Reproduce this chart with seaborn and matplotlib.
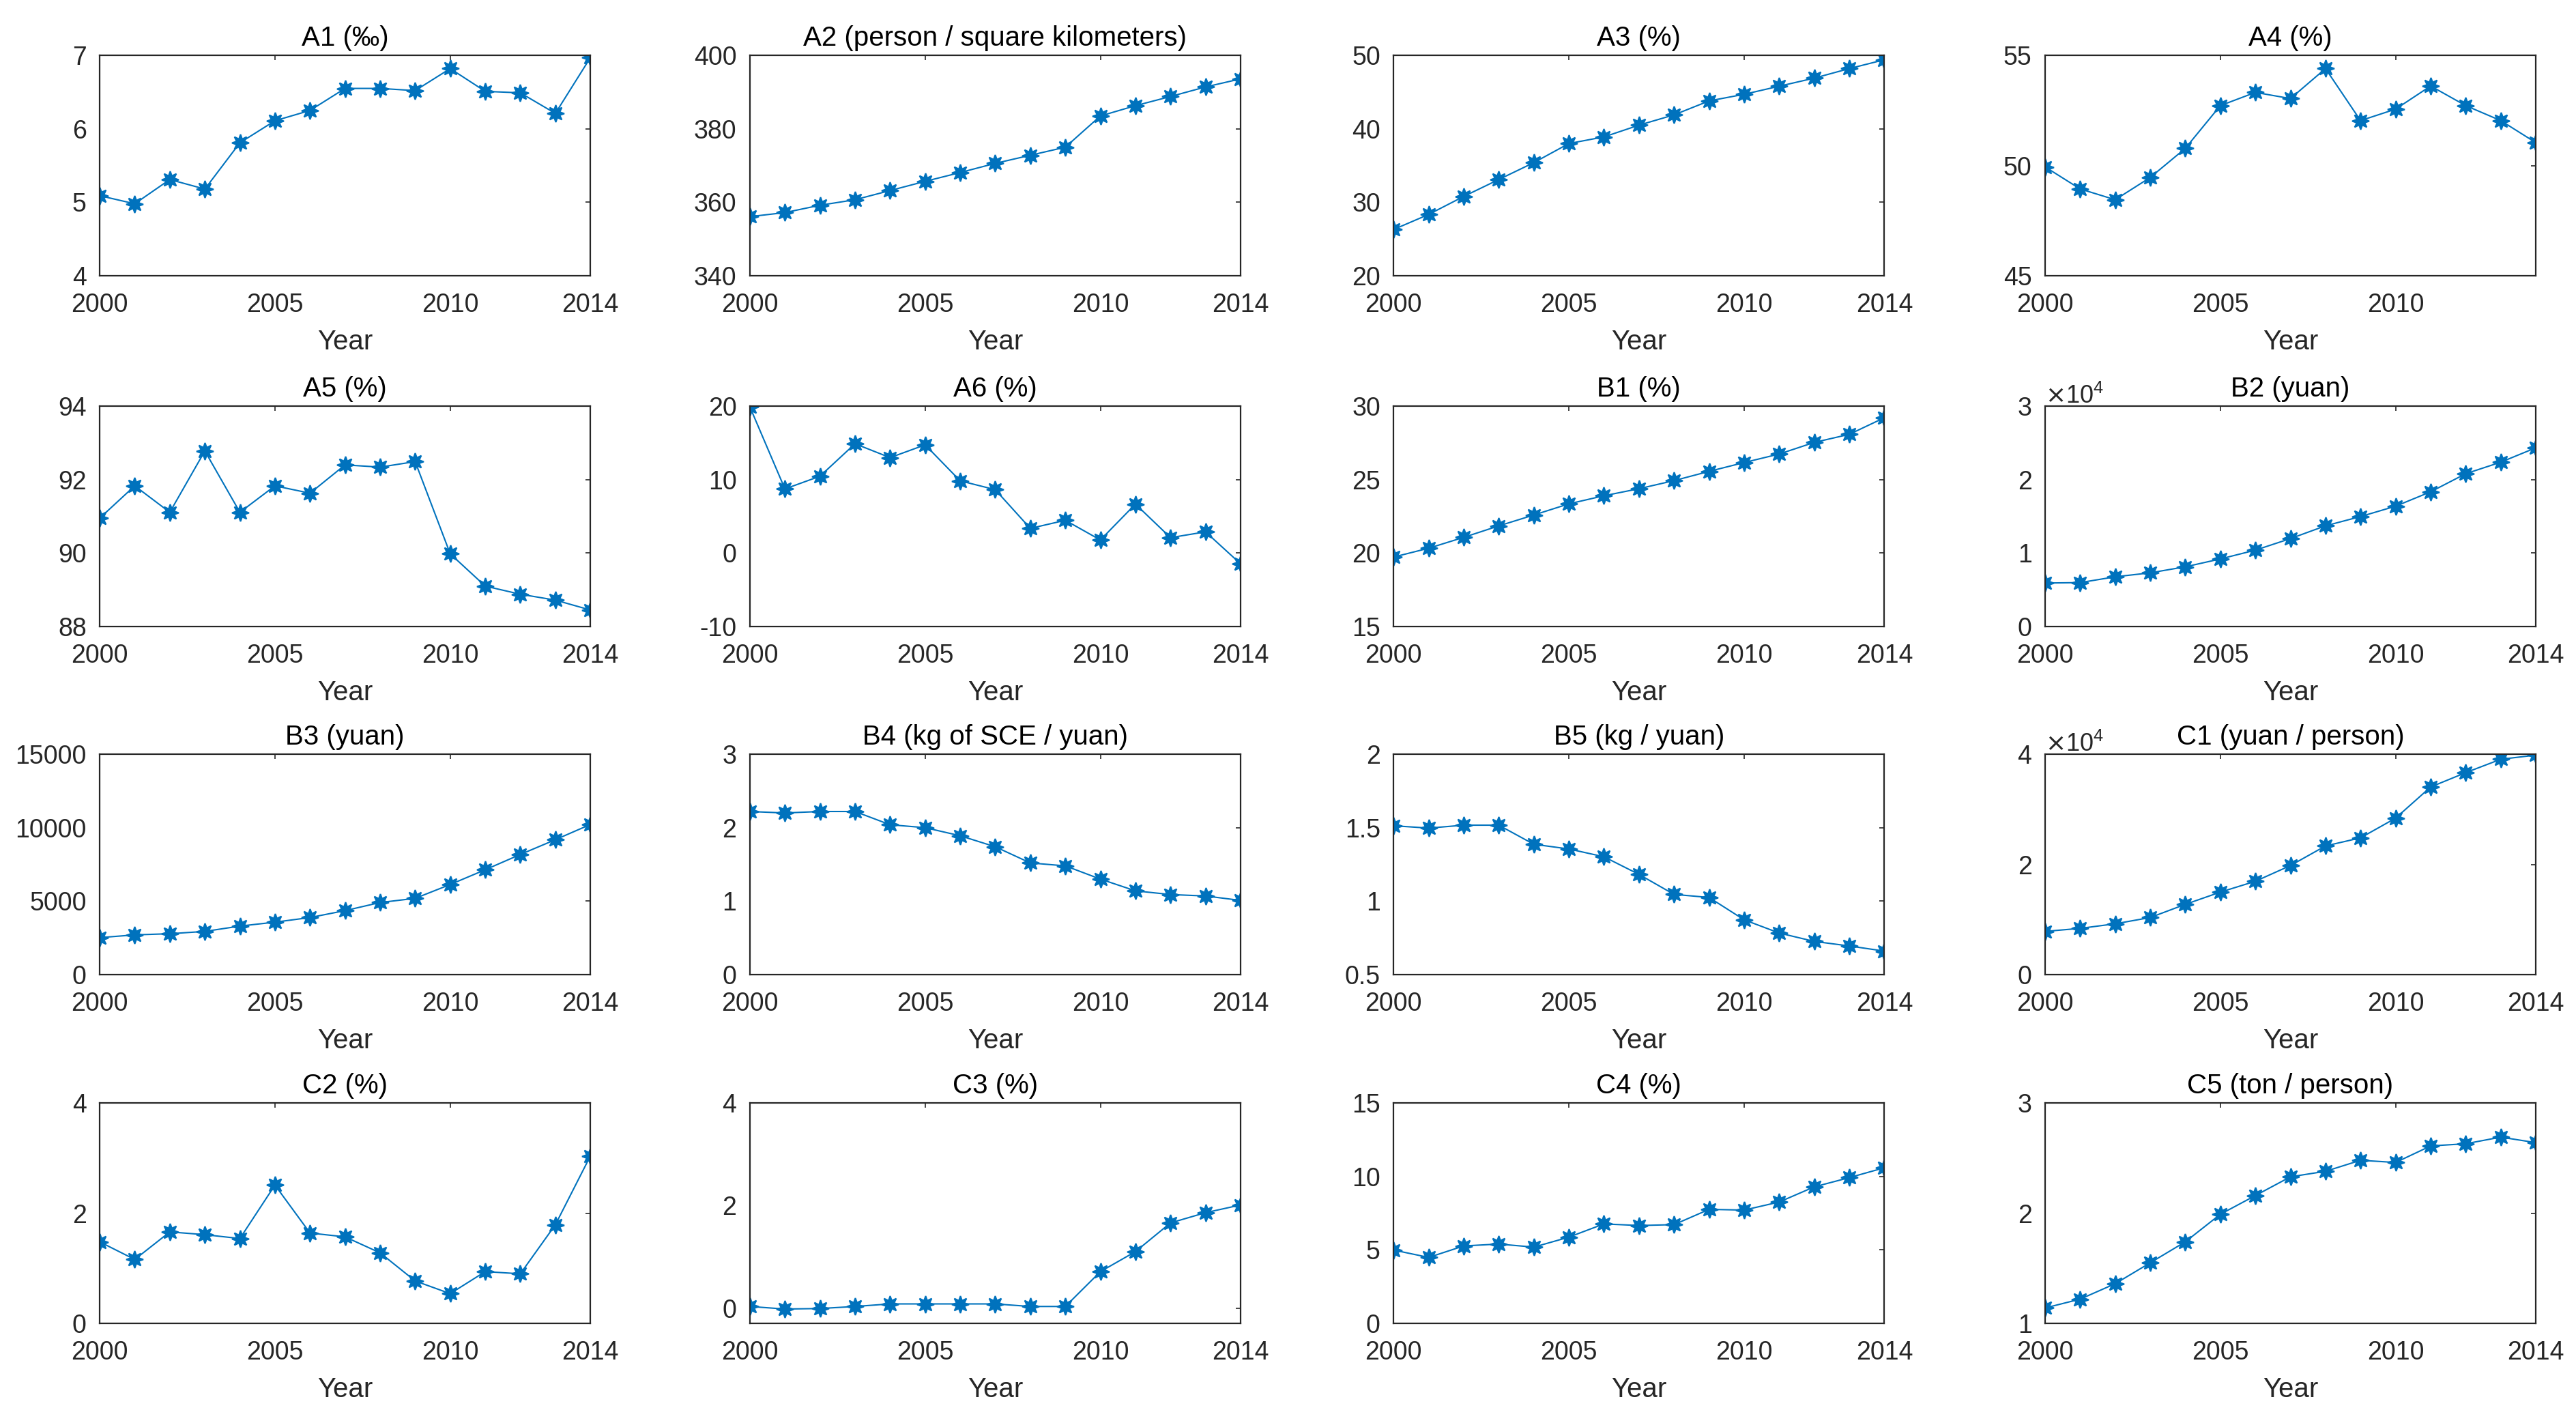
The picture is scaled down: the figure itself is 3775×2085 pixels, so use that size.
import matplotlib
matplotlib.use('Agg')
import matplotlib.pyplot as plt
from matplotlib.ticker import FuncFormatter
import numpy as np
import pandas as pd
import seaborn as sns

# values, one list per indicator
years = list(range(2000, 2015))

a1 = [5.09, 4.98, 5.31, 5.18, 5.81, 6.11, 6.25, 6.55, 6.55, 6.52, 6.82, 6.51, 6.49, 6.21, 6.97]
a2 = [356.1, 357.2, 359.2, 360.7, 363.2, 365.7, 368.1, 370.6, 372.8, 375.0, 383.5, 386.3, 388.8, 391.4, 393.6]
a3 = [26.3, 28.35, 30.8, 33.1, 35.4, 38.0, 38.9, 40.5, 41.9, 43.8, 44.7, 45.8, 46.9, 48.2, 49.4]
a4 = [49.94, 48.94, 48.45, 49.46, 50.78, 52.72, 53.32, 53.04, 54.40, 52.04, 52.56, 53.61, 52.72, 52.04, 51.04]
a5 = [90.95, 91.83, 91.11, 92.78, 91.11, 91.83, 91.63, 92.40, 92.34, 92.49, 89.98, 89.10, 88.88, 88.72, 88.45]
a6 = [19.9, 8.73, 10.46, 14.88, 12.99, 14.73, 9.83, 8.63, 3.36, 4.46, 1.78, 6.67, 2.10, 2.89, -1.47]
b1 = [19.73, 20.33, 21.07, 21.85, 22.59, 23.35, 23.90, 24.38, 24.93, 25.56, 26.16, 26.74, 27.53, 28.08, 29.21]
b2 = [5920, 5980, 6770, 7310, 8130, 9200, 10400, 11970, 13710, 14970, 16380, 18340, 20800, 22370, 24330]
b3 = [2516, 2704, 2783, 2940, 3302, 3569, 3884, 4355, 4906, 5189, 6132, 7138, 8176, 9182, 10220]
b4 = [2.22, 2.20, 2.22, 2.22, 2.04, 2.00, 1.89, 1.74, 1.52, 1.48, 1.30, 1.14, 1.09, 1.07, 1.01]
b5 = [1.513, 1.497, 1.517, 1.517, 1.387, 1.355, 1.302, 1.182, 1.046, 1.025, 0.873, 0.783, 0.726, 0.695, 0.660]
c1 = [7840, 8390, 9220, 10360, 12750, 14970, 16940, 19790, 23350, 24820, 28390, 34050, 36650, 39080, 39830]
c2 = [1.48, 1.16, 1.66, 1.61, 1.54, 2.51, 1.64, 1.57, 1.28, 0.77, 0.54, 0.94, 0.90, 1.79, 3.04]
c3 = [0.03, -0.02, -0.01, 0.03, 0.08, 0.08, 0.08, 0.08, 0.03, 0.03, 0.71, 1.10, 1.66, 1.86, 2.01]
c4 = [4.99, 4.49, 5.27, 5.40, 5.19, 5.87, 6.77, 6.66, 6.72, 7.76, 7.71, 8.26, 9.29, 9.92, 10.59]
c5 = [1.14, 1.22, 1.36, 1.55, 1.74, 1.99, 2.16, 2.33, 2.38, 2.48, 2.46, 2.61, 2.63, 2.69, 2.64]

titles = ['A1 (‰)', 'A2 (person / square kilometers)', 'A3 (%)', 'A4 (%)',
          'A5 (%)', 'A6 (%)', 'B1 (%)', 'B2 (yuan)',
          'B3 (yuan)', 'B4 (kg of SCE / yuan)', 'B5 (kg / yuan)', 'C1 (yuan / person)',
          'C2 (%)', 'C3 (%)', 'C4 (%)', 'C5 (ton / person)']
series = [a1, a2, a3, a4, a5, a6, b1, b2, b3, b4, b5, c1, c2, c3, c4, c5]

ylims = [(4, 7), (340, 400), (20, 50), (45, 55),
         (88, 94), (-10, 20), (15, 30), (0, 30000),
         (0, 15000), (0, 3), (0.5, 2), (0, 40000),
         (0, 4), (-0.3, 4), (0, 15), (1, 3)]
yticks = [[4, 5, 6, 7], [340, 360, 380, 400], [20, 30, 40, 50], [45, 50, 55],
          [88, 90, 92, 94], [-10, 0, 10, 20], [15, 20, 25, 30], [0, 10000, 20000, 30000],
          [0, 5000, 10000, 15000], [0, 1, 2, 3], [0.5, 1, 1.5, 2], [0, 20000, 40000],
          [0, 2, 4], [0, 2, 4], [0, 5, 10, 15], [1, 2, 3]]
xticks_default = [2000, 2005, 2010, 2014]
sci_panels = {'B2 (yuan)', 'C1 (yuan / person)'}

BLUE = '#0072BD'
DARK = '#262626'

sns.set_style('white')
plt.rcParams['font.family'] = ['Liberation Sans', 'DejaVu Sans']
plt.rcParams['axes.linewidth'] = 1.6
plt.rcParams['axes.edgecolor'] = DARK

fig = plt.figure(figsize=(37.75, 20.85), dpi=100)

lefts = [0.0387, 0.2911, 0.5410, 0.7939]
bottoms = [0.8062, 0.5597, 0.3151, 0.0700]
w, h = 0.1905, 0.1549

for i, (title, vals) in enumerate(zip(titles, series)):
    r, c = divmod(i, 4)
    ax = fig.add_axes([lefts[c], bottoms[r], w, h])
    df = pd.DataFrame({'Year': years, 'value': vals})
    sns.lineplot(data=df, x='Year', y='value', ax=ax, color=BLUE,
                 marker=(8, 1, 0), markersize=18, linewidth=1.5,
                 markeredgewidth=1.5, markeredgecolor=BLUE)
    ax.set_xlim(2000, 2014)
    ax.set_ylim(*ylims[i])
    ax.set_xticks([2000, 2005, 2010] if title == 'A4 (%)' else xticks_default)
    ax.set_yticks(yticks[i])
    if title in sci_panels:
        ax.ticklabel_format(style='sci', axis='y', scilimits=(0, 0), useMathText=True)
        ax.yaxis.get_offset_text().set_fontsize(26)
        ax.yaxis.get_offset_text().set_color('#7f7f7f')
    else:
        ax.yaxis.set_major_formatter(FuncFormatter(lambda v, p: '%g' % v))
    ax.tick_params(direction='in', length=5, width=1.2, top=True, right=True,
                   labelsize=27, labelcolor=DARK, color=DARK)
    ax.tick_params(axis='x', pad=18)
    ax.tick_params(axis='y', pad=14)
    ax.set_title(title, fontsize=29, color='black', pad=10)
    ax.set_xlabel('Year', fontsize=29, color=DARK, labelpad=12)
    ax.set_ylabel('')
    for s in ax.spines.values():
        s.set_visible(True)
        s.set_color(DARK)
        s.set_linewidth(1.6)

fig.savefig('out.png', dpi=100, facecolor='white')
